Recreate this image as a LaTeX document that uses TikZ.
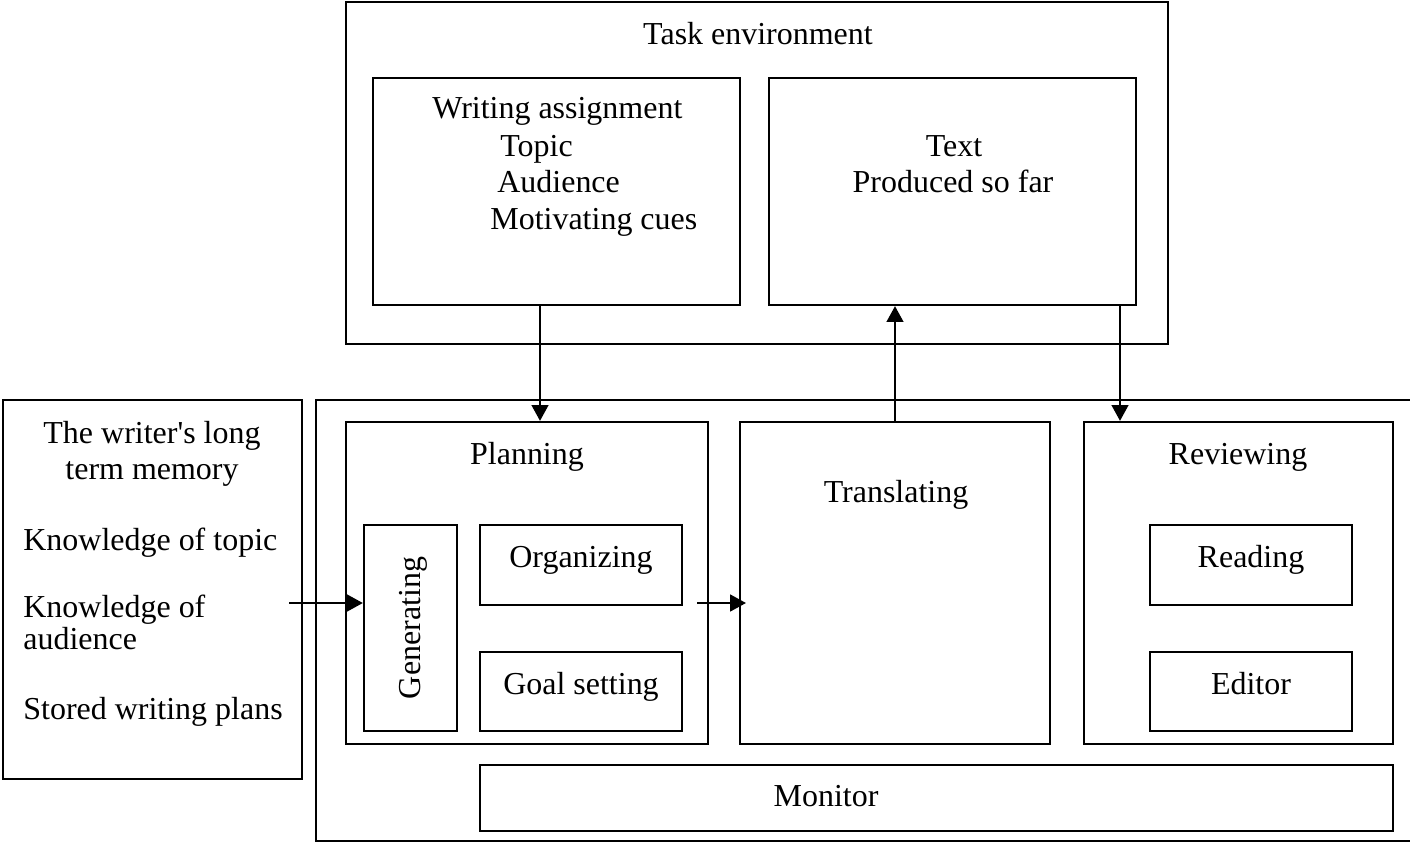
\documentclass[tikz,border=0pt]{standalone}
\usepackage{fontspec}
\setmainfont{Liberation Serif}
\usetikzlibrary{positioning, arrows.meta, fit, calc}

\tikzset{
  box/.style={draw, line width=1.3pt, inner sep=0pt},
  lbl/.style={font=\fontsize{18.2}{21}\selectfont, inner sep=0pt, text height=0.7em, text depth=0.2em},
  arr/.style={-{Triangle[length=9pt, width=9.5pt]}, line width=1.3pt},
}

\begin{document}
\begin{tikzpicture}[x=0.02cm, y=-0.02cm]
  \useasboundingbox (0,0) rectangle (1410,842);
  % boxes
  \node[box, fit={(346,2) (1168,344)}] (task) {};
  \node[box, fit={(373,78) (740,305)}] (wa) {};
  \node[box, fit={(769,78) (1136,305)}] (text) {};
  \node[box, fit={(3,400) (302,779)}] (mem) {};
  \draw[line width=1.3pt] (1414,400) -| (316,841) -- (1414,841);
  \node[box, fit={(346,422) (708,744)}] (plan) {};
  \node[box, fit={(364,525) (457,731)}] (gen) {};
  \node[box, fit={(480,525) (682,605)}] (org) {};
  \node[box, fit={(480,652) (682,731)}] (goal) {};
  \node[box, fit={(740,422) (1050,744)}] (trans) {};
  \node[box, fit={(1084,422) (1393,744)}] (rev) {};
  \node[box, fit={(1150,525) (1352,605)}] (read) {};
  \node[box, fit={(1150,652) (1352,731)}] (edit) {};
  \node[box, fit={(480,765) (1393,831)}] (mon) {};
  % labels
  \node[lbl] (taskT) at (758,40) {Task environment};
  \node[lbl, anchor=west] (waT) at (432,114) {Writing assignment};
  \node[lbl, anchor=west] (waA) at (500,152) {Topic};
  \node[lbl, anchor=west] (waB) at (497,188) {Audience};
  \node[lbl, anchor=west] (waC) at (490,225) {Motivating cues};
  \node[lbl] (textT) at (954,152) {Text};
  \node[lbl] (textA) at (953,188) {Produced so far};
  \node[lbl] (memT) at (152,439) {The writer\textquotesingle s long};
  \node[lbl] (memA) at (152,475) {term memory};
  \node[lbl, anchor=west] (memB) at (23,546) {Knowledge of topic};
  \node[lbl, anchor=west] (memC) at (23,613) {Knowledge of};
  \node[lbl, anchor=west] (memD) at (23,645) {audience};
  \node[lbl, anchor=west] (memE) at (23,715) {Stored writing plans};
  \node[lbl] (planT) at (527,460) {Planning};
  \node[lbl, rotate=90] (genT) at (416,628) {Generating};
  \node[lbl] (orgT) at (581,563) {Organizing};
  \node[lbl] (goalT) at (581,690) {Goal setting};
  \node[lbl] (transT) at (896,498) {Translating};
  \node[lbl] (revT) at (1238,460) {Reviewing};
  \node[lbl] (readT) at (1251,563) {Reading};
  \node[lbl] (editT) at (1251,690) {Editor};
  \node[lbl] (monT) at (826,802) {Monitor};
  % arrows
  \coordinate (ax1) at (540,0);
  \coordinate (ax3) at (1120,0);
  \coordinate (m1) at (289,603);
  \coordinate (m2) at (697,603);
  \coordinate (m3) at (746,603);
  \draw[arr] (wa.south -| ax1) -- (plan.north -| ax1);
  \draw[arr] (trans.north) -- (text.south -| trans.north);
  \draw[arr] (text.south -| ax3) -- (rev.north -| ax3);
  \draw[arr] (m1) -- (gen.west |- m1);
  \draw[arr] (m2) -- (m3);
\end{tikzpicture}
\end{document}
